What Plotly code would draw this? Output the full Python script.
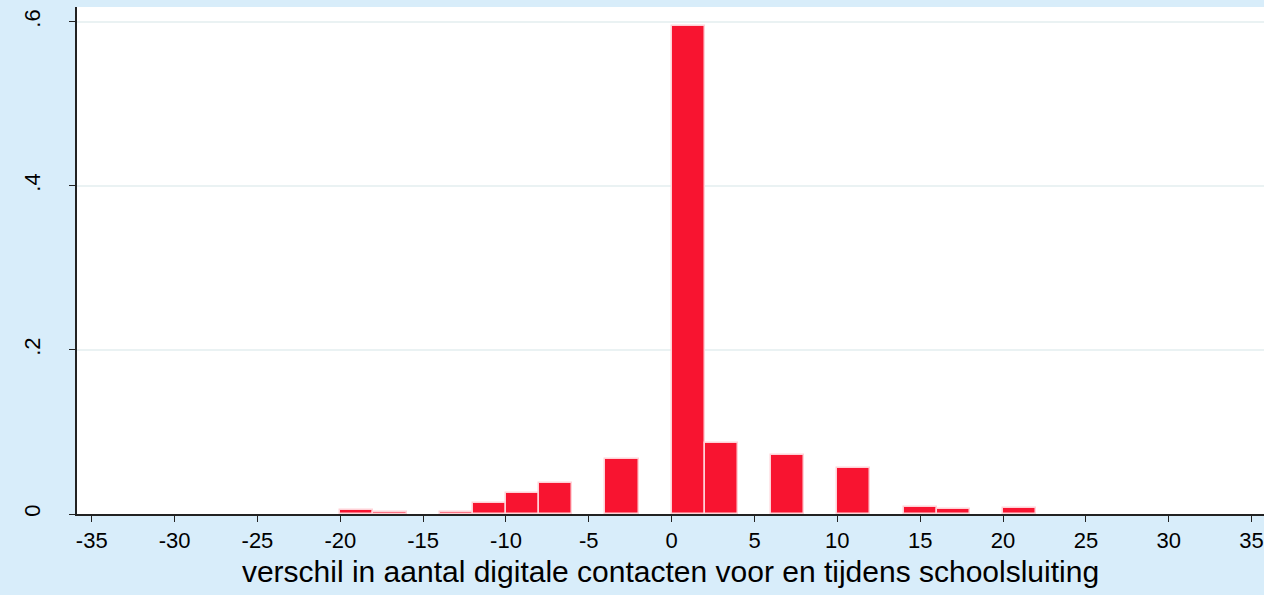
import plotly.graph_objects as go

# histogram bins (width 2) : left edges and density values
bin_left = [-20, -18, -14, -12, -10, -8, -4, 0, 2, 6, 10, 14, 16, 20]
density = [0.005, 0.0025, 0.002, 0.013, 0.025, 0.0374, 0.0667, 0.5947, 0.087,
           0.072, 0.0557, 0.0082, 0.0061, 0.007]
bin_width = 2

x_ticks = list(range(-35, 36, 5))
x_tick_text = [str(v) for v in x_ticks]  # plain hyphen-minus, as in the reference
y_ticks = [0, 0.2, 0.4, 0.6]
y_tick_text = ["0", ".2", ".4", ".6"]

centers = [b + bin_width / 2 for b in bin_left]

fig = go.Figure(go.Bar(
    x=centers, y=density, width=[bin_width] * len(centers),
    marker=dict(color="rgb(248,20,48)", line=dict(color="rgba(255,210,215,1)", width=1.5)),
    hoverinfo="x+y",
))

font_fam = "Liberation Sans, Arial, sans-serif"
fig.update_layout(
    width=1264, height=595,
    margin=dict(l=77, r=0, t=7, b=81),
    paper_bgcolor="rgb(216,237,250)",
    plot_bgcolor="white",
    showlegend=False,
    bargap=0,
    font=dict(family=font_fam, color="black"),
    xaxis=dict(
        range=[-35.89, 35.75], tickvals=x_ticks, ticktext=x_tick_text, ticks="outside", ticklen=6,
        tickcolor="#222", showline=True, linecolor="#222", linewidth=1.5,
        showgrid=False, zeroline=False, tickfont=dict(size=22, family=font_fam),
        title=dict(text="verschil in aantal digitale contacten voor en tijdens schoolsluiting",
                   font=dict(size=30, family=font_fam), standoff=9),
    ),
    yaxis=dict(
        range=[0, 0.618], tickvals=y_ticks, ticktext=y_tick_text, ticks="outside",
        ticklen=6, tickcolor="#222", showline=True, linecolor="#222", linewidth=1.5,
        showgrid=True, gridcolor="rgb(234,242,243)", gridwidth=1.5, zeroline=False,
        tickangle=-90, tickfont=dict(size=22, family=font_fam), ticklabelstandoff=20,
    ),
)

fig.write_html(
    "out.html",
    config={"displayModeBar": False},
    post_script="document.body.style.margin='0';document.body.style.overflow='hidden';",
)
